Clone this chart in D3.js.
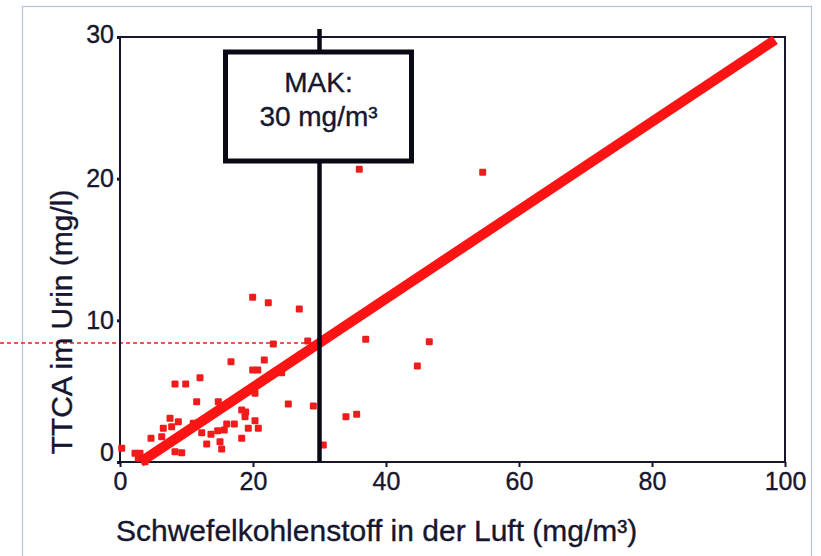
<!DOCTYPE html>
<html>
<head>
<meta charset="utf-8">
<script src="https://cdn.jsdelivr.net/npm/d3@7"></script>
<style>
  html, body { margin: 0; padding: 0; background: #ffffff; }
  svg { display: block; }
  text { font-family: "Liberation Sans", Arial, Helvetica, sans-serif; fill: #16162e; stroke: #16162e; stroke-width: 0.35px; }
</style>
</head>
<body>
<svg id="chart" width="821" height="556"></svg>
<script>
// CS2 in air (mg/m³) vs. TTCA in urine (mg/l), one entry per worker
const sulfurAir = [
  19.95, 22.30, 26.96, 23.05, 28.23, 16.69, 21.70, 19.95, 20.71, 12.03,
  8.27, 9.88, 20.30, 11.53, 14.78, 25.31, 29.07, 18.30, 18.90, 18.80,
  20.30, 16.05, 17.19, 19.29, 20.80, 14.69, 15.68, 13.68, 12.29, 18.30,
  15.04, 15.29, 13.04, 30.57, 7.52, 8.77, 7.77, 6.51, 11.02, 6.27,
  4.66, 0.26, 2.26, 3.01, 8.27, 9.28, 3.76, 2.75, 35.98, 54.54,
  36.95, 46.51, 44.71, 33.98, 35.59, 24.32
];
const ttcaUrine = [
  11.63, 11.24, 10.80, 8.33, 8.54, 7.08, 7.20, 6.49, 6.49, 5.95,
  5.51, 5.51, 4.85, 4.26, 4.26, 4.09, 3.95, 3.67, 3.53, 3.20,
  2.92, 2.68, 2.68, 2.38, 2.38, 2.21, 2.26, 1.96, 2.07, 1.67,
  1.43, 0.92, 1.27, 1.20, 3.08, 2.84, 2.49, 2.38, 2.73, 1.79,
  1.67, 0.97, 0.61, 0.61, 0.73, 0.66, 0.02, 0.26, 20.66, 20.45,
  8.66, 8.49, 6.78, 3.20, 3.37, 6.30
];

// Regression line end points (x in mg/m³, y in mg/l)
const fitX = [3.1, 98.5];
const fitY = [0, 29.8];

// MAK limit and the TTCA level the fit gives at that limit
const makValue = 30;
const makLabel = ["MAK:", "30 mg/m³"];
const ttcaAtMak = 8.4;

const xTicks = [0, 20, 40, 60, 80, 100];
const yTicks = [0, 10, 20, 30];
const xTitle = "Schwefelkohlenstoff in der Luft (mg/m³)";
const yTitle = "TTCA im Urin (mg/l)";

const svg = d3.select("#chart");
const red = "#f01c1c";
const ink = "#16162e";

const x = d3.scaleLinear().domain([0, 100]).range([120, 785]);
const y = d3.scaleLinear().domain([0, 30]).range([462, 37]);

// Light page frame
svg.append("rect")
  .attr("x", 22.5).attr("y", 6.5)
  .attr("width", 789).attr("height", 560)
  .attr("fill", "none").attr("stroke", "#b4c2de").attr("stroke-width", 1.2);

// Dashed guide from the left edge to the MAK line
svg.append("line")
  .attr("x1", 0).attr("x2", x(makValue) - 4)
  .attr("y1", y(ttcaAtMak)).attr("y2", y(ttcaAtMak))
  .attr("stroke", red).attr("stroke-width", 1.4)
  .attr("stroke-dasharray", "4,3");

// Plot frame
svg.append("rect")
  .attr("x", x(0)).attr("y", y(30))
  .attr("width", x(100) - x(0)).attr("height", y(0) - y(30))
  .attr("fill", "none").attr("stroke", ink).attr("stroke-width", 2);

// Axes (ticks only; the frame provides the domain lines)
const xAxis = svg.append("g")
  .attr("transform", `translate(0,${y(0)})`)
  .call(d3.axisBottom(x).tickValues(xTicks).tickSize(5).tickPadding(5).tickFormat(d3.format("d")));
xAxis.select(".domain").remove();
xAxis.selectAll(".tick line").attr("stroke", ink).attr("stroke-width", 2);
xAxis.selectAll(".tick text")
  .attr("font-size", 25).attr("fill", ink)
  .style("font-family", "'Liberation Sans', Arial, sans-serif");

const yAxis = svg.append("g")
  .attr("transform", `translate(${x(0)},0)`)
  .call(d3.axisLeft(y).tickValues(yTicks).tickSize(3).tickPadding(3).tickFormat(d3.format("d")));
yAxis.select(".domain").remove();
yAxis.selectAll(".tick line").attr("stroke", ink).attr("stroke-width", 3);
yAxis.selectAll(".tick text")
  .attr("font-size", 25).attr("fill", ink)
  .style("font-family", "'Liberation Sans', Arial, sans-serif")
  .attr("dy", d => d === 0 ? "-0.05em" : d === 30 ? "0.22em" : "0.32em");

// Scatter points
const pts = sulfurAir.map((v, i) => ({ cs2: v, ttca: ttcaUrine[i] }));
const s = 7;
svg.append("g").selectAll("rect")
  .data(pts)
  .join("rect")
  .attr("x", d => x(d.cs2) - s / 2)
  .attr("y", d => y(d.ttca) - s / 2)
  .attr("width", s).attr("height", s)
  .attr("rx", 1.2)
  .attr("fill", red);

// Regression line
svg.append("line")
  .attr("x1", x(fitX[0])).attr("y1", y(fitY[0]))
  .attr("x2", x(fitX[1])).attr("y2", y(fitY[1]))
  .attr("stroke", "#fb1414").attr("stroke-width", 10);

// MAK marker: vertical post with a sign
const mx = x(makValue);
svg.append("line")
  .attr("x1", mx).attr("x2", mx)
  .attr("y1", 29).attr("y2", y(0))
  .attr("stroke", "#0a0a14").attr("stroke-width", 4.5);

const boxW = 186, boxH = 109;
const sign = svg.append("g").attr("transform", `translate(${mx - 94},52)`);
sign.append("rect")
  .attr("width", boxW).attr("height", boxH)
  .attr("fill", "#ffffff").attr("stroke", "#0a0a14").attr("stroke-width", 5);
sign.selectAll("text")
  .data(makLabel)
  .join("text")
  .attr("x", boxW / 2)
  .attr("y", (d, i) => 40 + i * 34)
  .attr("text-anchor", "middle")
  .attr("font-size", 28)
  .text(d => d);

// Axis titles
svg.append("text")
  .attr("x", 116).attr("y", 541)
  .attr("font-size", 30)
  .text(xTitle);

svg.append("text")
  .attr("transform", "translate(72,322) rotate(-90)")
  .attr("text-anchor", "middle")
  .attr("font-size", 30)
  .text(yTitle);
</script>
</body>
</html>
